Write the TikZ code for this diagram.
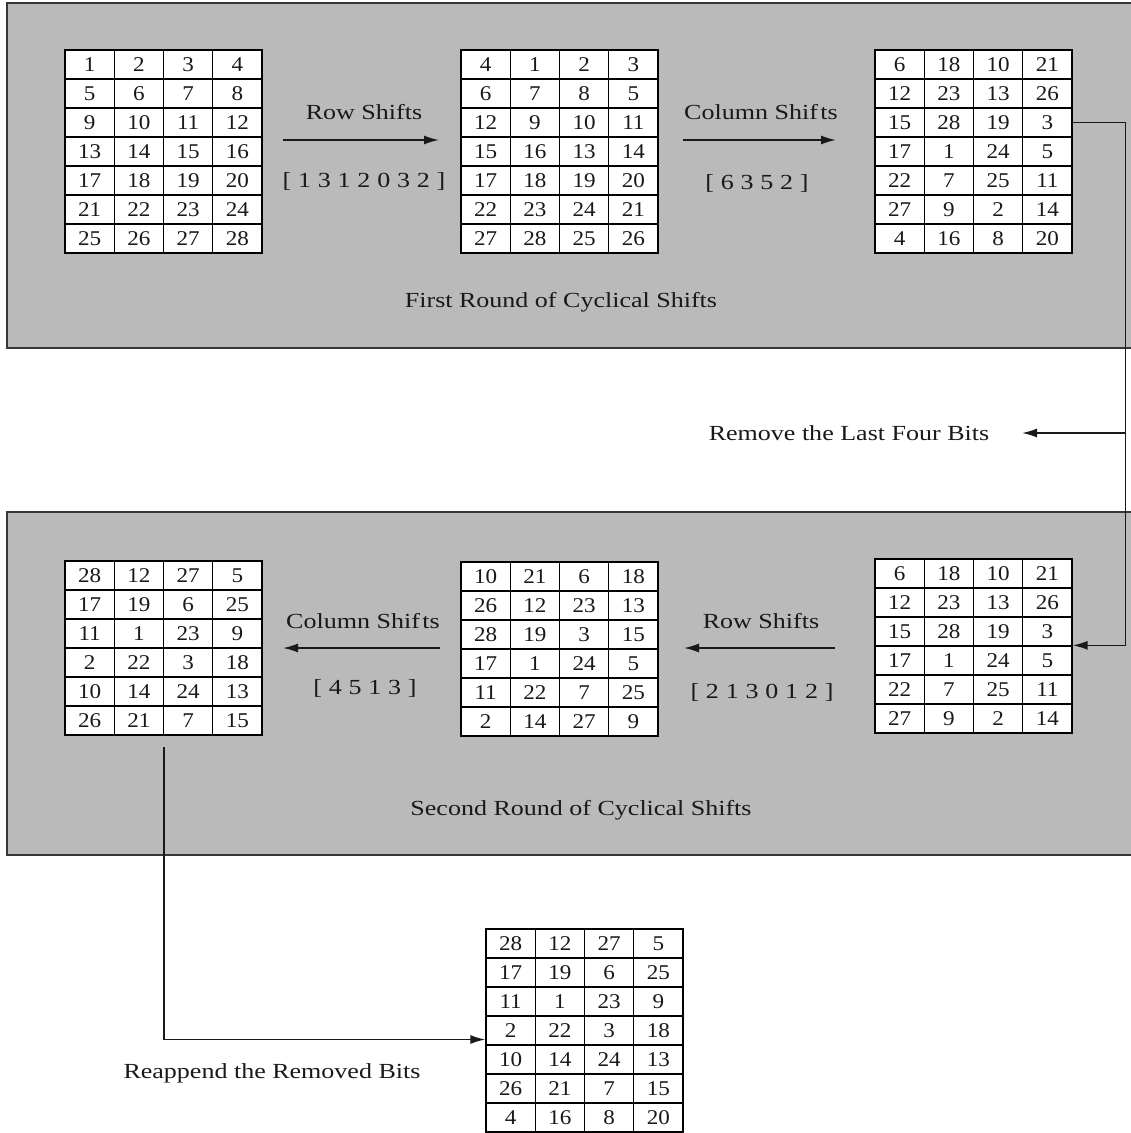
\documentclass[tikz,border=0pt]{standalone}
\usepackage{fontspec}
\setmainfont{Liberation Serif}
\newfontfamily\cellfont[FakeStretch=1.1]{Liberation Serif}
\newfontfamily\lblfont[FakeStretch=1.21]{Liberation Serif}
\usetikzlibrary{arrows.meta,calc}
\definecolor{boxgray}{RGB}{186,186,186}
\definecolor{boxline}{RGB}{55,55,55}
\definecolor{ink}{RGB}{25,25,25}
\newcommand{\mygrid}[4]{%
  \foreach \rw [count=\r] in {#4} {
    \foreach \v [count=\c] in \rw {
      \node[cell] (#1-\r-\c) at ({#2+(\c-0.5)*49.25},{#3+(\r-0.5)*29}) {\v};
    }
  }%
}
\begin{document}
\begin{tikzpicture}[x=1pt,y=-1pt,
  cell/.style={draw=black, fill=white, line width=1.3pt, minimum width=49.25pt,
    minimum height=29pt, inner sep=0pt, text=ink,
    font=\cellfont\fontsize{21pt}{24pt}\selectfont},
  lbl/.style={text=ink, inner sep=0pt, font=\lblfont\fontsize{21.5pt}{24pt}\selectfont},
  brk/.style={lbl, execute at begin node={\spaceskip=6.8pt\relax}},
  panel/.style={fill=boxgray, draw=boxline, line width=2pt},
  conn/.style={draw=ink, line width=1.6pt},
  arr/.style={conn, -{Latex[length=15pt,width=9pt]}}]
\clip (0,0) rectangle (1131,1133);
\fill[white] (0,0) rectangle (1131,1133);
% panels
\draw[panel] (7,3) rectangle (1145,348);
\draw[panel] (7,512) rectangle (1145,855);
% tables
\mygrid{ta}{65}{50}{{1,2,3,4},{5,6,7,8},{9,10,11,12},{13,14,15,16},{17,18,19,20},{21,22,23,24},{25,26,27,28}}
\mygrid{tb}{461}{50}{{4,1,2,3},{6,7,8,5},{12,9,10,11},{15,16,13,14},{17,18,19,20},{22,23,24,21},{27,28,25,26}}
\mygrid{tc}{875}{50}{{6,18,10,21},{12,23,13,26},{15,28,19,3},{17,1,24,5},{22,7,25,11},{27,9,2,14},{4,16,8,20}}
\mygrid{td}{875}{559}{{6,18,10,21},{12,23,13,26},{15,28,19,3},{17,1,24,5},{22,7,25,11},{27,9,2,14}}
\mygrid{te}{461}{562}{{10,21,6,18},{26,12,23,13},{28,19,3,15},{17,1,24,5},{11,22,7,25},{2,14,27,9}}
\mygrid{tf}{65}{561}{{28,12,27,5},{17,19,6,25},{11,1,23,9},{2,22,3,18},{10,14,24,13},{26,21,7,15}}
\mygrid{tg}{486}{929}{{28,12,27,5},{17,19,6,25},{11,1,23,9},{2,22,3,18},{10,14,24,13},{26,21,7,15},{4,16,8,20}}
% labels
\node[lbl] (rs1) at (364,112) {Row Shifts};
\node[brk] (rv1) at (364,181) {[ 1 3 1 2 0 3 2 ]};
\node[lbl] (cs1) at (761,112) {Column Shif\kern2.5pt ts};
\node[brk] (cv1) at (757,183) {[ 6 3 5 2 ]};
\node[lbl] (fr) at (561,302) {First Round of Cyclical Shifts};
\node[lbl] (rm) at (849,433) {Remove the Last Four Bits};
\node[lbl] (rs2) at (761,621) {Row Shifts};
\node[brk] (rv2) at (762,692) {[ 2 1 3 0 1 2 ]};
\node[lbl] (cs2) at (363,621) {Column Shif\kern2.5pt ts};
\node[brk] (cv2) at (365,688) {[ 4 5 1 3 ]};
\node[lbl] (sr) at (581,810) {Second Round of Cyclical Shifts};
\node[lbl] (ra) at (272,1073) {Reappend the Removed Bits};
% arrow coordinates
\coordinate (a1s) at (283,140);
\coordinate (a1e) at (439,140);
\coordinate (a2s) at (683,140);
\coordinate (a2e) at (836,140);
\coordinate (a3s) at (835,648);
\coordinate (a3e) at (684,648);
\coordinate (a4s) at (440,648);
\coordinate (a4e) at (283,648);
\coordinate (rj) at (1125,433);
\coordinate (rmE) at (1022,433);
\coordinate (dn) at (164,747);
% connectors
\draw[arr] (a1s) -- (a1e);
\draw[arr] (a2s) -- (a2e);
\draw[arr] (a3s) -- (a3e);
\draw[arr] (a4s) -- (a4e);
\draw[arr] (tc-3-4.east) -- ++(53,0) |- (td-4-4.north east);
\draw[arr] (rj) -- (rmE);
\draw[arr] (dn) |- ($(tg-4-1.west)+(0,9)$);
\end{tikzpicture}
\end{document}
